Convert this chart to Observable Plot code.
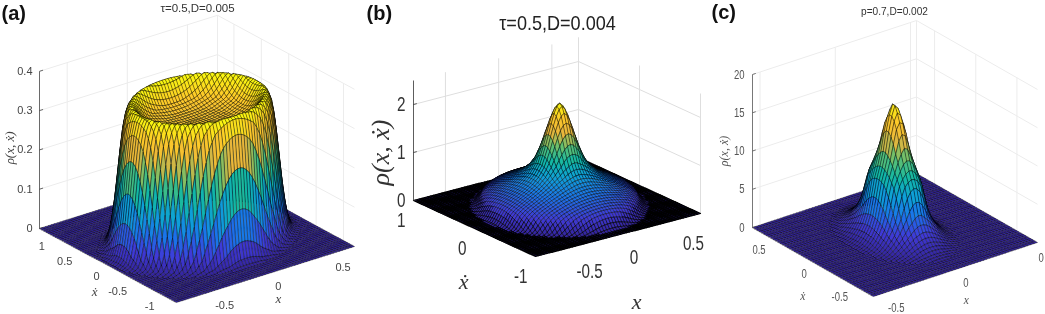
<!DOCTYPE html>
<html>
<head>
<meta charset="utf-8">
<script src="https://cdn.jsdelivr.net/npm/d3@7"></script>
<script src="https://cdn.jsdelivr.net/npm/@observablehq/plot@0.6"></script>
<style>html,body{margin:0;padding:0;background:#fff}svg{display:block;filter:blur(.3px)}</style>
</head>
<body>
<div id="chart"></div>
<script>
// Radial density profiles (radius relative to the foot of each surface).
const aRadius = [0, .2, .4, .55, .62, .68, .72, .76, .8, .83, .86, .89, .92, .95, .98, 1.02, 1.08, 1.2];
const aRho = [.29, .29, .297, .312, .33, .35, .36, .355, .33, .29, .23, .165, .105, .06, .028, .008, .001, 0];
const bRadius = [0, .04, .08, .13, .18, .23, .3, .38, .48, .58, .68, .78, .86, .92, .96, 1, 1.04, 1.1];
const bRho = [2.15, 2.1, 1.98, 1.75, 1.5, 1.25, .98, .8, .66, .56, .48, .4, .33, .25, .16, .07, .01, 0];
const cRadius = [0, .05, .1, .17, .23, .29, .38, .48, .56, .62, .72, .85, 1, 1.15, 1.3];
const cRho = [17.2, 16.8, 15.9, 14.5, 12.8, 11, 9.2, 7.5, 5.2, 3.6, 2.2, 1.1, .35, .05, 0];

const aTitle = "\u03c4=0.5,D=0.005", bTitle = "\u03c4=0.5,D=0.004", cTitle = "p=0.7,D=0.002";
const aLetter = "(a)", bLetter = "(b)", cLetter = "(c)";
const zLabel = "\u03c1(x, x\u0307)", xLabel = "x", yLabel = "x\u0307";

const aXTicks = [-0.5, 0, 0.5], aYTicks = [-1, -0.5, 0, 0.5, 1], aZTicks = [0, 0.1, 0.2, 0.3, 0.4];
const bXTicks = [-0.5, 0, 0.5], bYTicks = [-1, 0, 1], bZTicks = [0, 1, 2];
const cXTicks = [-0.5, 0, 0.5], cYTicks = [-0.5, 0, 0.5], cZTicks = [0, 5, 10, 15, 20];
const cXTickText = ["-0.5", "0", "0"];

const parula = ["#33239a", "#3f3ad8", "#1a74ea", "#0ea0d8", "#12b8a4", "#62c070", "#e8b63c", "#fdc82a", "#f9fb0e"];

// View of each 3-D box: screen position of three floor corners and of the z unit.
const views = {
  a: {L: [39, 228], B: [176, 302], R: [354, 246], zPx: 393, xr: [-.73, .75], yr: [-1.2, 1.3], zTop: .4, rx: .656, ry: .866, n: 60, sw: .4, low: .4, flat: .35},
  b: {L: [413, 200], B: [535, 256], R: [700, 213], zPx: 48, xr: [-.8, .75], yr: [-1, 1], zTop: 2.5, rx: .62, ry: .85, n: 58, sw: .42, low: .65, flat: 1.2},
  c: {L: [752, 227], B: [873, 296], R: [1037, 242], zPx: 7.65, xr: [-.55, .54], yr: [-.75, .72], zTop: 20, rx: .24, ry: .5, n: 52, sw: .4, low: .4, flat: .35}
};

function projector(v) {
  return (x, y, z) => {
    const fx = (x - v.xr[0]) / (v.xr[1] - v.xr[0]), fy = (y - v.yr[0]) / (v.yr[1] - v.yr[0]);
    return [
      v.B[0] + fx * (v.R[0] - v.B[0]) + fy * (v.L[0] - v.B[0]),
      v.B[1] + fx * (v.R[1] - v.B[1]) + fy * (v.L[1] - v.B[1]) - z * v.zPx
    ];
  };
}

function cells(v, radius, rho) {
  const P = projector(v), profile = d3.scaleLinear(radius, rho).clamp(true);
  const peak = d3.max(rho), n = v.n;
  const X = i => v.xr[0] + (v.xr[1] - v.xr[0]) * i / n, Y = j => v.yr[0] + (v.yr[1] - v.yr[0]) * j / n;
  const H = (i, j) => profile(Math.hypot(X(i) / v.rx, Y(j) / v.ry));
  const rows = [];
  let id = 0;
  for (let i = n - 1; i >= 0; --i) for (let j = n - 1; j >= 0; --j) {
    const corners = [[i, j], [i + 1, j], [i + 1, j + 1], [i, j + 1]];
    const t = d3.mean(corners, ([a, b]) => H(a, b)) / peak;
    for (const [a, b] of corners) {
      const [px, py] = P(X(a), Y(b), H(a, b));
      rows.push({px, py, id, t});
    }
    ++id;
  }
  return rows;
}

function box(key, xTicks, yTicks, zTicks, radius, rho, st) {
  const v = views[key], P = projector(v);
  const [x0, x1] = v.xr, [y0, y1] = v.yr, grid = st.grid;
  const wall = (d, f) => Plot.link(d, {
    x1: t => f(t)[0][0], y1: t => f(t)[0][1], x2: t => f(t)[1][0], y2: t => f(t)[1][1],
    stroke: grid, strokeWidth: 1
  });
  const font = {fontFamily: st.font, fontSize: st.tick, fill: st.ink, className: st.squeeze};
  const mid = zTicks[Math.floor(zTicks.length / 2)];
  const rows = cells(v, radius, rho);
  const mesh = (test, sw) => Plot.line(rows.filter(test), {
    x: "px", y: "py", z: "id", fill: "t", stroke: "#000", strokeWidth: sw, curve: "linear-closed"
  });
  return [
    wall(zTicks, z => [P(x0, y1, z), P(x1, y1, z)]),
    wall(zTicks, z => [P(x1, y1, z), P(x1, y0, z)]),
    wall(xTicks, x => [P(x, y1, 0), P(x, y1, v.zTop)]),
    wall(yTicks, y => [P(x1, y, 0), P(x1, y, v.zTop)]),
    wall([x1], x => [P(x, y1, 0), P(x, y1, v.zTop)]),
    mesh(d => d.t < .004, v.flat),
    mesh(d => d.t >= .004 && d.t < .1, v.low),
    mesh(d => d.t >= .1, v.sw),
    Plot.link([v.zTop], {
      x1: () => P(x0, y1, 0)[0], y1: () => P(x0, y1, 0)[1], x2: () => P(x0, y1, v.zTop)[0], y2: () => P(x0, y1, v.zTop)[1],
      stroke: st.ink, strokeWidth: .8
    }),
    Plot.link(zTicks, {
      x1: z => P(x0, y1, z)[0], y1: z => P(x0, y1, z)[1],
      x2: z => P(x0 + .02 * (x1 - x0), y1, z)[0], y2: z => P(x0 + .02 * (x1 - x0), y1, z)[1],
      stroke: st.ink, strokeWidth: .8
    }),
    Plot.text(zTicks, {x: z => P(x0, y1, z)[0], y: z => P(x0, y1, z)[1], text: z => String(z), textAnchor: "end", dx: st.zdx, ...font}),
    Plot.text(xTicks, {x: t => P(t, y0, 0)[0], y: t => P(t, y0, 0)[1], text: (t, i) => st.xText ? st.xText[i] : String(t), textAnchor: "start", dx: st.xd[0], dy: st.xd[1], ...font}),
    Plot.text(yTicks, {x: t => P(x0, t, 0)[0], y: t => P(x0, t, 0)[1], text: t => String(t), textAnchor: "end", dx: st.yd[0], dy: st.yd[1], ...font}),
    Plot.text([zLabel], {x: () => P(x0, y1, mid)[0], y: () => P(x0, y1, mid)[1], rotate: -90, dx: st.zl[0], dy: st.zl[1], fontFamily: "Liberation Serif", fontStyle: "italic", fontSize: st.zSize, fill: st.ink}),
    Plot.text([xLabel], {x: () => P(0, y0, 0)[0], y: () => P(0, y0, 0)[1], dx: st.xl[0], dy: st.xl[1], fontFamily: "Liberation Serif", fontStyle: "italic", fontSize: st.label, fill: st.ink}),
    Plot.text([yLabel], {x: () => P(x0, 0, 0)[0], y: () => P(x0, 0, 0)[1], dx: st.yl[0], dy: st.yl[1], fontFamily: "Liberation Serif", fontStyle: "italic", fontSize: st.label, fill: st.ink}),
    Plot.text([st.title], {frameAnchor: "top-left", lineAnchor: "middle", textAnchor: "middle", dx: st.tp[0], dy: st.tp[1], fontFamily: "Liberation Sans", fontSize: st.titleSize, fill: st.titleInk, className: st.titleClass}),
    Plot.text([st.letter], {frameAnchor: "top-left", lineAnchor: "middle", textAnchor: "start", dx: st.lp[0], dy: st.lp[1], fontFamily: "Liberation Sans", fontWeight: "bold", fontSize: 20, fill: "#111"})
  ];
}

const sans = "Liberation Sans";

const chart = Plot.plot({
  width: 1045, height: 314, margin: 0,
  x: {domain: [0, 1045], range: [0, 1045], axis: null},
  y: {domain: [0, 314], range: [0, 314], axis: null},
  color: {type: "linear", domain: [0, 1], interpolate: d3.piecewise(d3.interpolateRgb, parula)},
  marks: [
    ...box("a", aXTicks, aYTicks, aZTicks, aRadius, aRho, {
      grid: "#ececec", ink: "#444", font: sans, tick: 11, label: 13, zSize: 13, zdx: -7, xd: [11, 12], yd: [-11, 9.5], squeeze: "plain",
      zl: [-30, -2], xl: [14, 24], yl: [-16, 25], title: aTitle, titleSize: 11.5, titleInk: "#333", titleClass: "plain", tp: [197, 8], letter: aLetter, lp: [1, 13]
    }),
    ...box("b", bXTicks, bYTicks, bZTicks, bRadius, bRho, {
      grid: "#dedede", ink: "#333", font: sans, tick: 20, label: 22, zSize: 26, zdx: -8, xd: [9, 23], yd: [-8, 20], squeeze: "sq76",
      zl: [-33, 0], xl: [16, 68], yl: [-11, 53], title: bTitle, titleSize: 21, titleInk: "#222", titleClass: "sq86", tp: [557, 23], letter: bLetter, lp: [366, 13]
    }),
    ...box("c", cXTicks, cYTicks, cZTicks, cRadius, cRho, {
      grid: "#ececec", ink: "#555", font: sans, tick: 12.5, label: 11.5, zSize: 12, zdx: -8, xd: [7, 13.5], yd: [-5, 12.5], xText: cXTickText, squeeze: "sq76",
      zl: [-28, 0], xl: [10, 31], yl: [-9, 35], title: cTitle, titleSize: 11, titleInk: "#333", titleClass: "sq92", tp: [894, 11], letter: cLetter, lp: [711, 12]
    })
  ]
});
document.getElementById("chart").appendChild(chart);
// The source panels b and c were stretched; their sans text is condensed to the same widths.
for (const [cls, factor] of [["sq76", .76], ["sq86", .86], ["sq92", .92]]) {
  d3.select(chart).selectAll(`.${cls} text`).each(function () {
    this.setAttribute("textLength", (this.getComputedTextLength() * factor).toFixed(1));
    this.setAttribute("lengthAdjust", "spacingAndGlyphs");
  });
}
</script>
</body>
</html>
